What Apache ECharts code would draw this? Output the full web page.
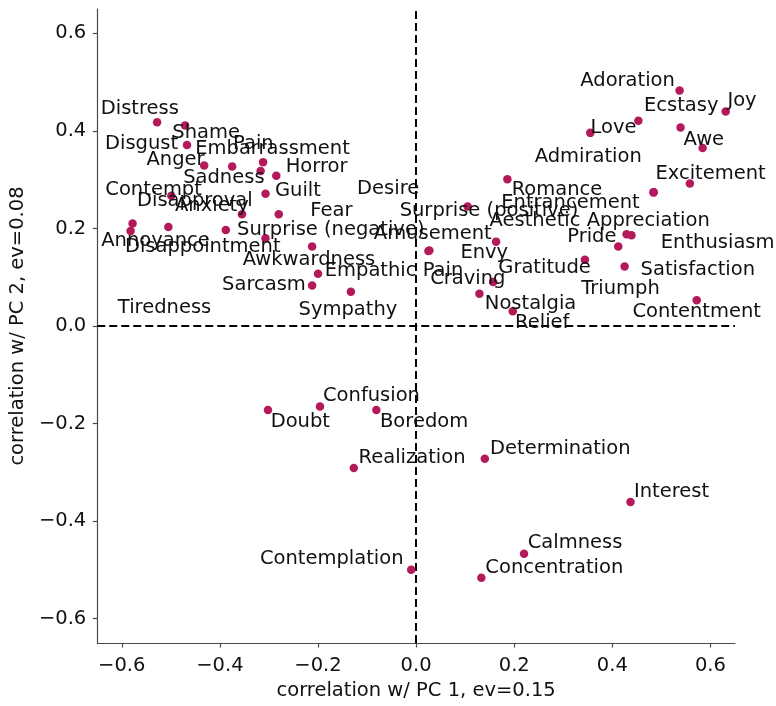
<!DOCTYPE html>
<html>
<head>
<meta charset="utf-8">
<script src="https://cdn.jsdelivr.net/npm/echarts@6/dist/echarts.min.js"></script>
<style>
html,body{margin:0;padding:0;background:#fff;}
#chart{width:776px;height:706px;}
</style>
</head>
<body>
<div id="chart"></div>
<script>
// ---- data ----
const emotions = ["Distress","Shame","Disgust","Anger","Sadness","Pain","Embarrassment","Horror","Guilt","Contempt",
  "Anxiety","Fear","Tiredness","Annoyance","Disapproval","Surprise (negative)","Disappointment","Awkwardness","Empathic Pain","Sarcasm",
  "Sympathy","Desire","Amusement","Adoration","Joy","Admiration","Ecstasy","Love","Awe","Romance",
  "Excitement","Entrancement","Surprise (positive)","Triumph","Enthusiasm","Envy","Pride","Gratitude","Satisfaction","Craving",
  "Nostalgia","Contentment","Relief","Aesthetic Appreciation","Doubt","Confusion","Boredom","Realization","Contemplation","Determination",
  "Interest","Calmness","Concentration"];
const pc1 = [-0.528,-0.471,-0.467,-0.432,-0.375,-0.312,-0.317,-0.285,-0.307,-0.499,
  -0.355,-0.280,-0.578,-0.582,-0.505,-0.388,-0.307,-0.212,-0.200,-0.212,
  -0.133,0.027,0.025,0.537,0.631,0.453,0.539,0.355,0.584,0.186,
  0.558,0.484,0.105,0.429,0.439,0.163,0.412,0.344,0.425,0.157,
  0.129,0.572,0.197,0.484,-0.302,-0.196,-0.081,-0.127,-0.010,0.140,
  0.437,0.220,0.133];
const pc2 = [0.418,0.411,0.371,0.329,0.327,0.336,0.318,0.308,0.271,0.267,
  0.229,0.229,0.210,0.195,0.203,0.197,0.180,0.163,0.107,0.083,
  0.070,0.155,0.154,0.483,0.440,0.421,0.407,0.396,0.365,0.301,
  0.292,0.274,0.245,0.188,0.186,0.173,0.163,0.136,0.122,0.090,
  0.066,0.053,0.030,0.274,-0.172,-0.165,-0.172,-0.291,-0.500,-0.272,
  -0.361,-0.467,-0.516];
const tickValues = [-0.6,-0.4,-0.2,0.0,0.2,0.4,0.6];
const xTitle = "correlation w/ PC 1, ev=0.15";
const yTitle = "correlation w/ PC 2, ev=0.08";

// ---- layout: label offsets in pixels from each dot (left edge, vertical middle) ----
const labelOffsets = [[-56.4,-15.7],[-12.7,5.3],[-82,-3.3],[-57.7,-8],[-49,9],[-30,-20],[-65.4,-23.7],[9.4,-11.3],[9.4,-5.3],[-66,-8],
  [-67,-10.7],[31.6,-5.7],[-14.7,82],[-29.4,7.7],[-31.4,-28.4],[11.3,-2.6],[-140.6,7],[-69.3,11.4],[6.7,-5],[-90,-2.4],
  [-52.3,16.3],[-72.3,-64],[-54.6,-18.7],[-99.3,-11.7],[1.7,-12.3],[-103.7,34.3],[-36.6,-23.4],[0.3,-7],[-19,-10],[4.3,9],
  [-34.4,-12.3],[-152.3,8.3],[-68,2],[-45.3,52.3],[29.3,5.3],[-35.7,8.7],[-51,-11.3],[-86.6,5.6],[16,1.7],[-63,-5.7],
  [5.4,7.7],[-64.3,10],[2.3,9.7],[-164,26.3],[2.7,10.3],[3,-12.7],[3.6,10.3],[4.7,-12.3],[-151.3,-13],[5.3,-12.4],
  [3.4,-12.3],[3.7,-13],[4,-12.3]];
const LABEL_NUDGE_Y = 2.2;

const FONT = 'DejaVu Sans';
const FS = 19.5;
const TXT = '#111111';
const fmt = v => (v < 0 ? '\u2212' : '') + Math.abs(v).toFixed(1);

const seriesData = emotions.map((n, i) => ({
  name: n,
  value: [pc1[i], pc2[i]],
  label: { offset: [labelOffsets[i][0], labelOffsets[i][1] + LABEL_NUDGE_Y] }
}));

const axisCommon = {
  type: 'value',
  min: -0.65,
  max: 0.65,
  splitLine: { show: false },
  axisLine: { show: true, onZero: false, lineStyle: { color: '#4a4a4a', width: 1.2 } },
  axisTick: { show: true, inside: false, length: 4.5, customValues: tickValues, lineStyle: { color: '#4a4a4a', width: 1.2 } },
  nameLocation: 'middle',
  nameTextStyle: { fontFamily: FONT, fontSize: FS, color: TXT }
};

const chart = echarts.init(document.getElementById('chart'), null, { renderer: 'canvas' });
chart.setOption({
  animation: false,
  backgroundColor: '#ffffff',
  grid: { left: 93, right: 41, top: 9, bottom: 59, containLabel: false },
  xAxis: Object.assign({}, axisCommon, {
    name: xTitle, nameGap: 38,
    axisLabel: { customValues: tickValues, formatter: fmt, fontFamily: FONT, fontSize: FS, color: TXT, margin: 13 }
  }),
  yAxis: Object.assign({}, axisCommon, {
    name: yTitle, nameGap: 64,
    axisLabel: { customValues: tickValues, formatter: fmt, fontFamily: FONT, fontSize: FS, color: TXT, margin: 11, padding: [4, 0, 0, 0] }
  }),
  series: [{
    type: 'scatter',
    symbol: 'circle',
    symbolSize: 8.5,
    itemStyle: { color: '#b3195b', opacity: 1 },
    data: seriesData,
    z: 3,
    label: {
      show: true,
      position: 'inside',
      align: 'left',
      verticalAlign: 'middle',
      formatter: p => p.name,
      fontFamily: FONT,
      fontSize: FS,
      color: TXT,
      textBorderWidth: 0
    },
    markLine: {
      silent: true,
      symbol: ['none', 'none'],
      label: { show: false },
      lineStyle: { color: '#000', type: [8, 4], width: 2 },
      data: [{ xAxis: 0 }, { yAxis: 0 }],
      z: 2
    }
  }]
});
</script>
</body>
</html>
